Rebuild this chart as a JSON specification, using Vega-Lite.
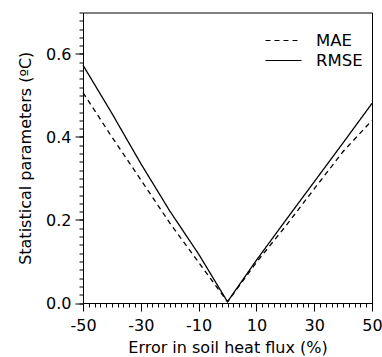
{
  "$schema": "https://vega.github.io/schema/vega-lite/v6.json",
  "width": 289,
  "height": 290.5,
  "autosize": {"type": "none"},
  "padding": {"left": 83, "top": 12.5, "right": 10, "bottom": 54},
  "background": "white",
  "config": {
    "view": {"stroke": "#000", "strokeWidth": 1},
    "font": "DejaVu Sans",
    "axis": {"domainColor": "#000", "tickColor": "#000", "labelColor": "#000", "titleColor": "#000", "labelFont": "DejaVu Sans", "titleFont": "DejaVu Sans", "labelFontSize": 16, "titleFontSize": 16, "titleFontWeight": "normal", "grid": false, "tickWidth": 1, "domainWidth": 1}
  },
  "data": {"values": [
    {"err": -50, "value": 0.573, "stat": "RMSE"},
    {"err": -40, "value": 0.457, "stat": "RMSE"},
    {"err": -30, "value": 0.336, "stat": "RMSE"},
    {"err": -20, "value": 0.222, "stat": "RMSE"},
    {"err": -10, "value": 0.118, "stat": "RMSE"},
    {"err": 0, "value": 0.003, "stat": "RMSE"},
    {"err": 10, "value": 0.103, "stat": "RMSE"},
    {"err": 20, "value": 0.198, "stat": "RMSE"},
    {"err": 30, "value": 0.292, "stat": "RMSE"},
    {"err": 40, "value": 0.386, "stat": "RMSE"},
    {"err": 50, "value": 0.481, "stat": "RMSE"},
    {"err": -50, "value": 0.507, "stat": "MAE"},
    {"err": -40, "value": 0.400, "stat": "MAE"},
    {"err": -30, "value": 0.297, "stat": "MAE"},
    {"err": -20, "value": 0.193, "stat": "MAE"},
    {"err": -10, "value": 0.098, "stat": "MAE"},
    {"err": 0, "value": 0.003, "stat": "MAE"},
    {"err": 10, "value": 0.098, "stat": "MAE"},
    {"err": 20, "value": 0.184, "stat": "MAE"},
    {"err": 30, "value": 0.275, "stat": "MAE"},
    {"err": 40, "value": 0.365, "stat": "MAE"},
    {"err": 50, "value": 0.440, "stat": "MAE"}
  ]},
  "resolve": {"axis": {"x": "independent", "y": "independent"}},
  "layer": [
    {
      "mark": {"type": "line", "strokeOpacity": 0},
      "encoding": {
        "x": {"field": "err", "type": "quantitative", "scale": {"domain": [-50, 50], "nice": false, "zero": false},
          "axis": {"orient": "bottom", "title": null, "labels": false, "domain": false, "tickSize": 4, "values": [-50,-48,-46,-44,-42,-40,-38,-36,-34,-32,-30,-28,-26,-24,-22,-20,-18,-16,-14,-12,-10,-8,-6,-4,-2,0,2,4,6,8,10,12,14,16,18,20,22,24,26,28,30,32,34,36,38,40,42,44,46,48,50]}},
        "y": {"field": "value", "type": "quantitative", "scale": {"domain": [0, 0.7], "nice": false},
          "axis": {"orient": "left", "title": null, "labels": false, "domain": false, "tickSize": 4, "values": [0,0.02,0.04,0.06,0.08,0.1,0.12,0.14,0.16,0.18,0.2,0.22,0.24,0.26,0.28,0.3,0.32,0.34,0.36,0.38,0.4,0.42,0.44,0.46,0.48,0.5,0.52,0.54,0.56,0.58,0.6,0.62,0.64,0.66,0.68,0.7]}},
        "detail": {"field": "stat"}
      }
    },
    {
      "mark": {"type": "line", "color": "#000", "strokeWidth": 1.3},
      "encoding": {
        "x": {"field": "err", "type": "quantitative", "scale": {"domain": [-50, 50], "nice": false, "zero": false},
          "axis": {"orient": "bottom", "title": "Error in soil heat flux (%)", "values": [-50, -30, -10, 10, 30, 50], "tickSize": 8, "labelPadding": 6, "titlePadding": 6, "labelExpr": "datum.value + ''", "labelFlush": false}},
        "y": {"field": "value", "type": "quantitative", "scale": {"domain": [0, 0.7], "nice": false},
          "axis": {"orient": "left", "title": "Statistical parameters (ºC)", "values": [0, 0.2, 0.4, 0.6], "tickSize": 8, "labelPadding": 4, "titlePadding": 12, "format": ".1f", "labelFlush": false}},
        "strokeDash": {"field": "stat", "type": "nominal", "scale": {"domain": ["MAE", "RMSE"], "range": [[5, 4], [1, 0]]},
          "legend": {"title": null, "orient": "none", "legendX": 190.5, "legendY": 18, "symbolType": "M-2,0H2", "symbolSize": 324, "symbolStrokeWidth": 1.2, "symbolStrokeColor": "#000", "labelFont": "DejaVu Sans", "labelFontSize": 16.5, "labelColor": "#000", "labelOffset": 22.5, "rowPadding": 1, "padding": 0}}
      }
    }
  ]
}
